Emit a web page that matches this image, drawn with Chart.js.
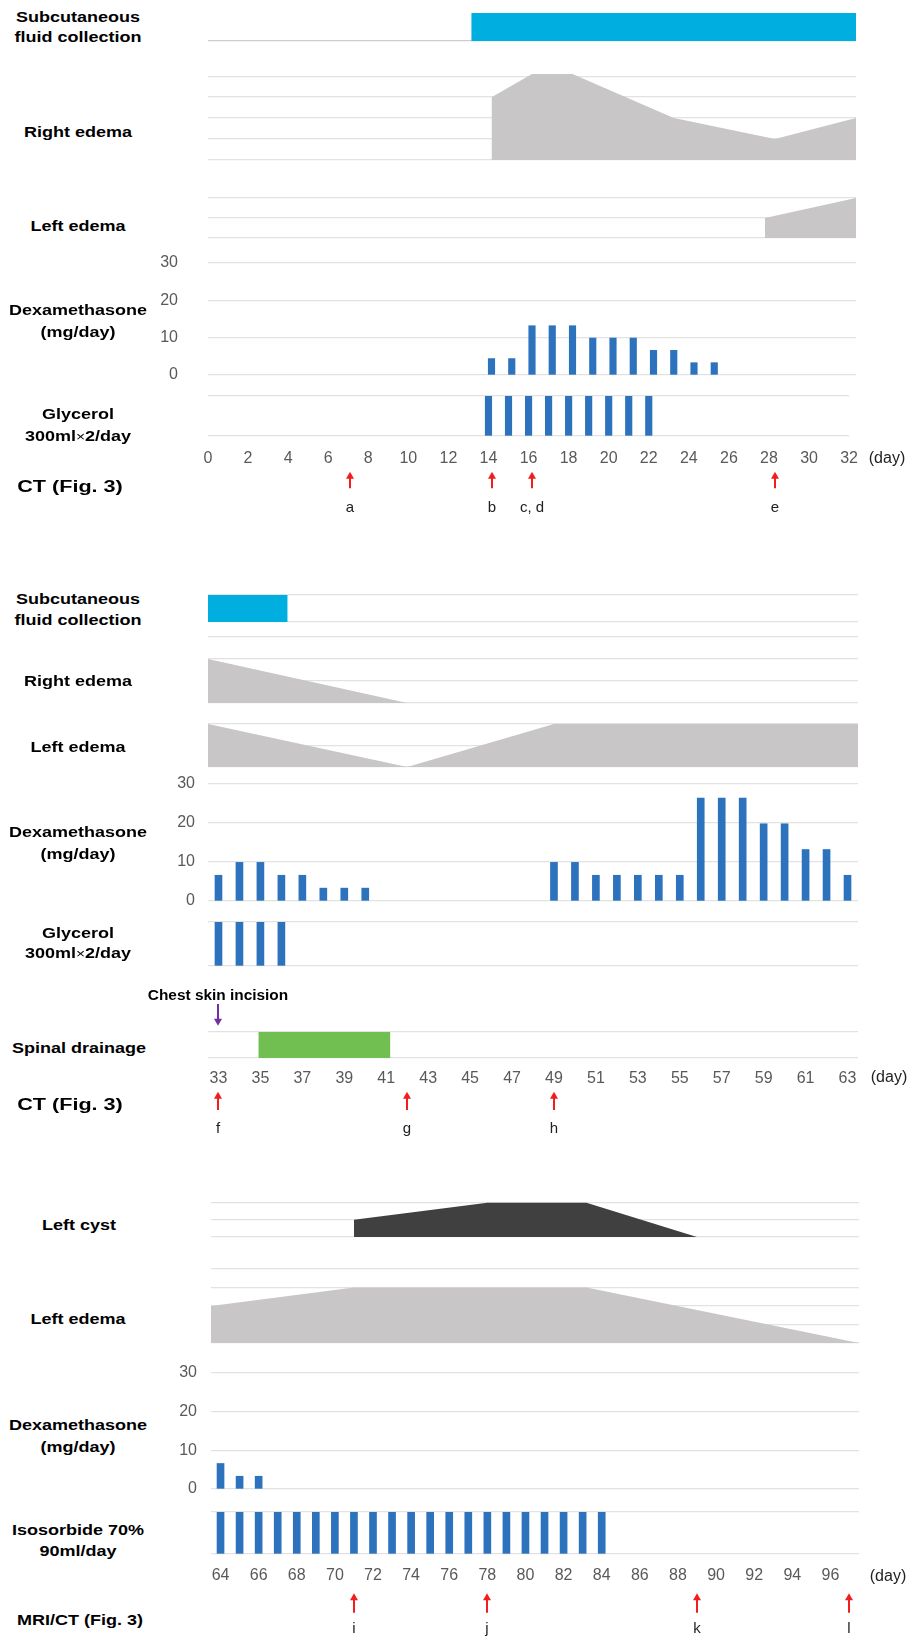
<!DOCTYPE html>
<html>
<head>
<meta charset="utf-8">
<title>Clinical course</title>
<script src="https://cdn.jsdelivr.net/npm/chart.js@4.4.1/dist/chart.umd.min.js"></script>
<style>
  body { margin: 0; background: #fff; }
  #page { position: relative; width: 915px; height: 1637px; overflow: hidden; font-family: "Liberation Sans", Arial, sans-serif; }
  #page canvas { position: absolute; }
  .lbl { position: absolute; font-weight: bold; font-size: 15px; color: #000; white-space: nowrap; line-height: 1; transform: translate(-50%, -50%) scaleX(1.2); }
  .lbl .x { font-weight: normal; font-size: 13px; }
  .unit { position: absolute; font-size: 16px; color: #222; white-space: nowrap; line-height: 1; transform: translate(-50%, -50%); }
</style>
</head>
<body>
<div id="page"></div>
<script>
// ---------- panel 1 : day 0 - 32 ----------
const p1DayTicks = [0, 2, 4, 6, 8, 10, 12, 14, 16, 18, 20, 22, 24, 26, 28, 30, 32];
const p1SubcutDays = [13, 32];
const p1SubcutLevel = [1, 1];
const p1RightEdemaDays = [14, 16, 18, 23, 28, 32];
const p1RightEdemaLevel = [3, 4.1, 4.1, 2, 1, 2];
const p1LeftEdemaDays = [27.5, 32];
const p1LeftEdemaLevel = [1, 2];
const p1DexDays = [14, 15, 16, 17, 18, 19, 20, 21, 22, 23, 24, 25];
const p1DexDose = [4.4, 4.4, 13.2, 13.2, 13.2, 9.9, 9.9, 9.9, 6.6, 6.6, 3.3, 3.3];
const p1GlycerolDays = [14, 15, 16, 17, 18, 19, 20, 21, 22];
const p1GlycerolGiven = [1, 1, 1, 1, 1, 1, 1, 1, 1];
const p1CtDays = [7, 14, 16, 28];
const p1CtLetters = ["a", "b", "c, d", "e"];

// ---------- panel 2 : day 33 - 63 ----------
const p2DayTicks = [33, 35, 37, 39, 41, 43, 45, 47, 49, 51, 53, 55, 57, 59, 61, 63];
const p2SubcutDays = [32.5, 36.3];
const p2SubcutLevel = [1, 1];
const p2RightEdemaDays = [32.5, 42];
const p2RightEdemaLevel = [2, 0];
const p2LeftEdemaDays = [32.5, 42, 49, 63.5];
const p2LeftEdemaLevel = [2, 0, 2, 2];
const p2DexDays = [33, 34, 35, 36, 37, 38, 39, 40, 49, 50, 51, 52, 53, 54, 55, 56, 57, 58, 59, 60, 61, 62, 63];
const p2DexDose = [6.6, 9.9, 9.9, 6.6, 6.6, 3.3, 3.3, 3.3, 9.9, 9.9, 6.6, 6.6, 6.6, 6.6, 6.6, 26.4, 26.4, 26.4, 19.8, 19.8, 13.2, 13.2, 6.6];
const p2GlycerolDays = [33, 34, 35, 36];
const p2GlycerolGiven = [1, 1, 1, 1];
const p2DrainDays = [34.9, 41.2];
const p2DrainOn = [1, 1];
const p2IncisionDays = [33];
const p2CtDays = [33, 42, 49];
const p2CtLetters = ["f", "g", "h"];

// ---------- panel 3 : day 64 - 97 ----------
const p3DayTicks = [64, 66, 68, 70, 72, 74, 76, 78, 80, 82, 84, 86, 88, 90, 92, 94, 96];
const p3CystDays = [71, 78, 83.2, 89];
const p3CystLevel = [1, 2, 2, 0];
const p3LeftEdemaDays = [63.5, 71, 83.2, 97.5];
const p3LeftEdemaLevel = [2, 3, 3, 0];
const p3DexDays = [64, 65, 66];
const p3DexDose = [6.6, 3.3, 3.3];
const p3IsoDays = [64, 65, 66, 67, 68, 69, 70, 71, 72, 73, 74, 75, 76, 77, 78, 79, 80, 81, 82, 83, 84];
const p3IsoGiven = [1, 1, 1, 1, 1, 1, 1, 1, 1, 1, 1, 1, 1, 1, 1, 1, 1, 1, 1, 1, 1];
const p3MriDays = [71, 78, 89, 97];
const p3MriLetters = ["i", "j", "k", "l"];

const dexTicks = [0, 10, 20, 30];

// colours
const BLUE = "#2c72bd";
const CYAN = "#00aedf";
const GREY = "#c8c6c7";
const DARK = "#404040";
const GREEN = "#70bf50";
const RED = "#f01e1e";
const PURPLE = "#7030a0";
const GRID = "#e2e2e2";
const FONT = "'Liberation Sans', Arial, sans-serif";

// plot rectangles of each strip (page px)
const P1 = { left: 208, right: 856, min: 0, max: 32, ticks: p1DayTicks };
const P2 = { left: 208, right: 858, min: 32.5, max: 63.5, ticks: p2DayTicks };
const P3 = { left: 211, right: 859, min: 63.5, max: 97.5, ticks: p3DayTicks };

const LEFT_ROOM = 60;
const RIGHT_ROOM = 15;
const AXIS_ROOM = 36;
const M = 12; // room above / below each plot so labels are not cut

const page = document.getElementById("page");
const pts = (xs, ys) => xs.map((x, i) => ({ x: x, y: ys[i] }));

function makeCanvas(panel, top, height) {
  const c = document.createElement("canvas");
  const w = panel.right - panel.left + LEFT_ROOM + RIGHT_ROOM;
  c.width = w;
  c.height = height;
  c.style.width = w + "px";
  c.style.height = height + "px";
  c.style.left = panel.left - LEFT_ROOM + "px";
  c.style.top = top + "px";
  page.appendChild(c);
  return c;
}

function panelChart(panel, top, bottom, spec) {
  const t = Math.round(top);
  const b = Math.round(bottom);
  const withAxis = spec.xPad !== undefined;
  const height = b - t + M + (withAxis ? AXIS_ROOM : M);
  const c = makeCanvas(panel, t - M, height);

  let dataset;
  if (spec.bars) {
    dataset = { data: pts(spec.days, spec.values), backgroundColor: BLUE, borderWidth: 0, barThickness: spec.thick || 7 };
  } else {
    dataset = {
      data: pts(spec.days, spec.values), fill: "origin", backgroundColor: spec.color,
      borderColor: "rgba(0,0,0,0)", borderWidth: 0, pointRadius: 0, tension: 0,
    };
  }

  return new Chart(c, {
    type: spec.bars ? "bar" : "line",
    data: { datasets: [dataset] },
    options: {
      responsive: false,
      animation: false,
      events: [],
      layout: { autoPadding: false, padding: { top: M, right: RIGHT_ROOM, bottom: withAxis ? 0 : M, left: 0 } },
      plugins: { legend: { display: false }, tooltip: { enabled: false } },
      scales: {
        x: {
          type: "linear", min: panel.min, max: panel.max, offset: false,
          display: withAxis,
          grid: { display: false, drawTicks: false, offset: false },
          border: { display: false },
          ticks: { display: withAxis, autoSkip: false, maxRotation: 0, padding: spec.xPad || 0, color: "#595959", font: { family: FONT, size: 16 } },
          afterBuildTicks: (ax) => { ax.ticks = panel.ticks.map((v) => ({ value: v })); },
          afterFit: (ax) => { ax.height = withAxis ? AXIS_ROOM : 0; },
        },
        y: {
          min: 0, max: spec.yMax,
          grid: { color: spec.gridColor || GRID, lineWidth: 1.3, drawTicks: false },
          border: { display: false },
          ticks: { display: spec.yPad !== undefined, padding: spec.yPad || 0, color: "#595959", font: { family: FONT, size: 16 } },
          afterBuildTicks: (ax) => { ax.ticks = spec.grid.map((v) => ({ value: v })); },
          afterFit: (ax) => {
            ax.width = LEFT_ROOM;
            // keep the plot height fixed, the labels may hang over the edges
            ax.paddingTop = 0;
            ax.paddingBottom = 0;
          },
        },
      },
    },
  });
}

// arrows (and letters) placed by the strip's own x scale
function marksChart(panel, top, height, days, letters, m) {
  const c = makeCanvas(panel, top, height);
  const arrows = {
    id: "arrows",
    afterDraw(chart) {
      const ctx = chart.ctx;
      const xs = chart.scales.x;
      const y0 = chart.chartArea.top;
      ctx.save();
      ctx.strokeStyle = m.color;
      ctx.fillStyle = m.color;
      ctx.lineWidth = 2;
      days.forEach((d, i) => {
        const x = Math.round(xs.getPixelForValue(d));
        const tip = y0 + (m.down ? m.tail : m.tip);
        const tail = y0 + (m.down ? m.tip : m.tail);
        const dir = m.down ? -1 : 1;
        ctx.beginPath();
        ctx.moveTo(x, tail);
        ctx.lineTo(x, tip + dir * 5);
        ctx.stroke();
        ctx.beginPath();
        ctx.moveTo(x, tip);
        ctx.lineTo(x - 4, tip + dir * 7);
        ctx.lineTo(x + 4, tip + dir * 7);
        ctx.closePath();
        ctx.fill();
        if (letters) {
          ctx.fillStyle = "#222";
          ctx.font = "15px " + FONT;
          ctx.textAlign = "center";
          ctx.textBaseline = "middle";
          ctx.fillText(letters[i], x, y0 + m.letter);
          ctx.fillStyle = m.color;
        }
      });
      ctx.restore();
    },
  };
  return new Chart(c, {
    type: "scatter",
    data: { datasets: [] },
    options: {
      responsive: false, animation: false, events: [],
      layout: { autoPadding: false, padding: { top: 0, right: RIGHT_ROOM, bottom: 0, left: 0 } },
      plugins: { legend: { display: false }, tooltip: { enabled: false } },
      scales: {
        x: { type: "linear", min: panel.min, max: panel.max, display: false },
        y: { min: 0, max: 1, display: true, grid: { display: false, drawTicks: false }, border: { display: false }, ticks: { display: false },
             afterFit: (ax) => { ax.width = LEFT_ROOM; } },
      },
    },
    plugins: [arrows],
  });
}

// ----- panel 1 -----
panelChart(P1, 13.3, 40.7, { days: p1SubcutDays, values: p1SubcutLevel, color: CYAN, yMax: 1, grid: [0], gridColor: "#cccccc" });
panelChart(P1, 71.8, 159.5, { days: p1RightEdemaDays, values: p1RightEdemaLevel, color: GREY, yMax: 4.2, grid: [0, 1, 2, 3, 4] });
panelChart(P1, 198, 238, { days: p1LeftEdemaDays, values: p1LeftEdemaLevel, color: GREY, yMax: 2, grid: [0, 1, 2] });
panelChart(P1, 263.3, 375, { bars: true, days: p1DexDays, values: p1DexDose, yMax: 30, grid: dexTicks, yPad: 30, thick: 6.5 });
panelChart(P1, 395.7, 435.7, { bars: true, days: p1GlycerolDays, values: p1GlycerolGiven, yMax: 1, grid: [0, 1], xPad: 13, thick: 6.5 });
marksChart(P1, 468, 52, p1CtDays, p1CtLetters, { color: RED, tip: 3.7, tail: 20.3, letter: 39.5 });

// ----- panel 2 -----
panelChart(P2, 595, 621.7, { days: p2SubcutDays, values: p2SubcutLevel, color: CYAN, yMax: 1, grid: [0, 1] });
panelChart(P2, 636.7, 703.3, { days: p2RightEdemaDays, values: p2RightEdemaLevel, color: GREY, yMax: 3, grid: [0, 1, 2, 3] });
panelChart(P2, 724.3, 767.3, { days: p2LeftEdemaDays, values: p2LeftEdemaLevel, color: GREY, yMax: 2, grid: [0, 1, 2] });
panelChart(P2, 784, 900.7, { bars: true, days: p2DexDays, values: p2DexDose, yMax: 30, grid: dexTicks, yPad: 13 });
panelChart(P2, 921.7, 965.7, { bars: true, days: p2GlycerolDays, values: p2GlycerolGiven, yMax: 1, grid: [0, 1] });
panelChart(P2, 1031.7, 1058.3, { days: p2DrainDays, values: p2DrainOn, color: GREEN, yMax: 1, grid: [0, 1], xPad: 11 });
marksChart(P2, 1000, 30, p2IncisionDays, null, { color: PURPLE, down: true, tip: 4, tail: 25.7 });
marksChart(P2, 1088, 52, p2CtDays, p2CtLetters, { color: RED, tip: 3.7, tail: 22, letter: 41.3 });

// ----- panel 3 -----
panelChart(P3, 1200.6, 1236.7, { days: p3CystDays, values: p3CystLevel, color: DARK, yMax: 2.1, grid: [0, 1, 2] });
panelChart(P3, 1269.3, 1343.3, { days: p3LeftEdemaDays, values: p3LeftEdemaLevel, color: GREY, yMax: 4, grid: [0, 1, 2, 3, 4] });
panelChart(P3, 1373.3, 1489, { bars: true, days: p3DexDays, values: p3DexDose, yMax: 30, grid: dexTicks, yPad: 14 });
panelChart(P3, 1511.7, 1554, { bars: true, days: p3IsoDays, values: p3IsoGiven, yMax: 1, grid: [0, 1], xPad: 12 });
marksChart(P3, 1590, 47, p3MriDays, p3MriLetters, { color: RED, tip: 3.3, tail: 22.7, letter: 39.3 });

// ----- row titles -----
const rowLabels = [
  ["Subcutaneous", 78, 15.7], ["fluid collection", 78, 36.3],
  ["Right edema", 78, 130.7],
  ["Left edema", 78, 225],
  ["Dexamethasone", 78, 309], ["(mg/day)", 78, 330.7],
  ["Glycerol", 78, 413.3], ["300ml<span class='x'>×</span>2/day", 78, 435],
  ["Subcutaneous", 78, 598.3], ["fluid collection", 78, 619.3],
  ["Right edema", 78, 680],
  ["Left edema", 78, 745.5],
  ["Dexamethasone", 78, 830.7], ["(mg/day)", 78, 853.3],
  ["Glycerol", 78, 931.7], ["300ml<span class='x'>×</span>2/day", 78, 951.7],
  ["Spinal drainage", 79, 1046.7],
  ["Left cyst", 79, 1224.3],
  ["Left edema", 78, 1318],
  ["Dexamethasone", 78, 1424.3], ["(mg/day)", 78, 1446],
  ["Isosorbide 70%", 78, 1529.3], ["90ml/day", 78, 1550],
  ["MRI/CT (Fig. 3)", 80, 1619.3],
];
rowLabels.forEach((r) => {
  const d = document.createElement("div");
  d.className = "lbl";
  d.innerHTML = r[0];
  d.style.left = r[1] + "px";
  d.style.top = r[2] + "px";
  page.appendChild(d);
});

// bigger CT captions and the incision note
[[70, 486.7], [70, 1105]].forEach((p) => {
  const d = document.createElement("div");
  d.className = "lbl";
  d.textContent = "CT (Fig. 3)";
  d.style.fontSize = "16px";
  d.style.transform = "translate(-50%, -50%) scaleX(1.35)";
  d.style.left = p[0] + "px";
  d.style.top = p[1] + "px";
  page.appendChild(d);
});
const inc = document.createElement("div");
inc.className = "lbl";
inc.textContent = "Chest skin incision";
inc.style.fontSize = "14px";
inc.style.transform = "translate(-50%, -50%) scaleX(1.1)";
inc.style.left = "218px";
inc.style.top = "995px";
page.appendChild(inc);

[[887, 458.3], [889, 1077], [888, 1575.7]].forEach((p) => {
  const d = document.createElement("div");
  d.className = "unit";
  d.textContent = "(day)";
  d.style.left = p[0] + "px";
  d.style.top = p[1] + "px";
  page.appendChild(d);
});
</script>
</body>
</html>
